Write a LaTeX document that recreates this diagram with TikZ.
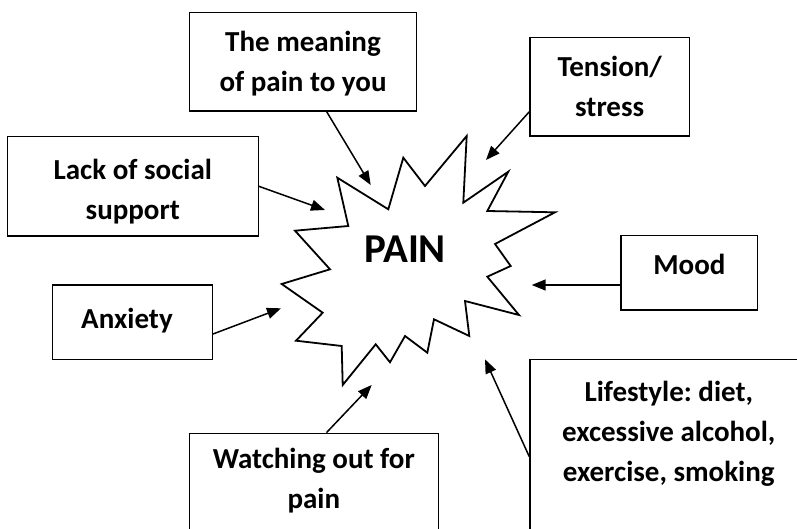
\documentclass[tikz,border=0pt]{standalone}
\usepackage{fontspec}
\setmainfont{Carlito}
\frenchspacing
\usetikzlibrary{arrows,arrows.meta,positioning}

\begin{document}
\begin{tikzpicture}[
        x = 1pt, y = -1pt, % one unit per pixel, y pointing down
        > = {Triangle[length=14pt,width=11pt]}, % arrow head style
        line width = 1.5pt % line style
    ]

    \tikzstyle{box}=[
        draw = black,
        line width = 1.4pt,
        fill = white,
        inner sep = 0pt
    ]
    \tikzstyle{boxtext}=[
        align = center,
        inner sep = 0pt,
        font = \fontsize{29}{40}\selectfont\bfseries
    ]

    \useasboundingbox (0,0) rectangle (797,529);
    \clip (0,0) rectangle (797,529);

    % the star
    \draw[line width=1.8pt, line join=miter, fill=white]
        (337.3,177.7) -- (388.3,209.3) -- (403.3,157.7) -- (425,186)
        -- (466.7,136) -- (463.3,202.7) -- (508.3,171.7) -- (487.3,211)
        -- (555,212.3) -- (495,244) -- (510.7,266) -- (487.3,276.7)
        -- (519,315) -- (465,301) -- (469.3,336) -- (434,319.3)
        -- (427.3,352.7) -- (405,336) -- (390,362.3) -- (375.7,344.3)
        -- (342.7,385) -- (341.7,346) -- (296,340.7) -- (322.7,312.7)
        -- (281.7,284) -- (330,269.3) -- (295,230.7) -- (348.3,226) -- cycle;
    \node[font=\fontsize{41}{48}\selectfont\bfseries, inner sep=0pt] (pain) at (405,248.9) {PAIN};

    % boxes
    \node[box, minimum width=227.4pt, minimum height=98.3pt] (meaning) at (303,61.9) {};
    \node[box, minimum width=159.3pt, minimum height=98.7pt] (tension) at (609.7,86.7) {};
    \node[box, minimum width=251pt, minimum height=99.3pt] (lack) at (132.8,186.35) {};
    \node[box, minimum width=159.6pt, minimum height=74.3pt] (anxiety) at (132.5,322.15) {};
    \node[box, minimum width=136.7pt, minimum height=74.3pt] (mood) at (689.35,272.85) {};
    \node[box, minimum width=277.6pt, minimum height=185.7pt] (lifestyle) at (668.8,452.15) {};
    \node[box, minimum width=249pt, minimum height=111.7pt] (watching) at (313.8,489.15) {};

    \node[boxtext, below=18.5pt of meaning.north] (meaningtext) {The meaning\\of pain to you};
    \node[boxtext, below=18.5pt of tension.north] (tensiontext) {Tension/\\stress};
    \node[boxtext, below=22.5pt of lack.north] (lacktext) {Lack of social\\support};
    \node[boxtext, below=23.5pt of anxiety.north, xshift=-5.5pt] (anxietytext) {Anxiety};
    \node[boxtext, below=18.5pt of mood.north] (moodtext) {Mood};
    \node[boxtext, below=21.5pt of lifestyle.north] (lifestyletext) {Lifestyle: diet,\\excessive alcohol,\\exercise, smoking};
    \node[boxtext, below=14.5pt of watching.north] (watchingtext) {Watching out for\\pain};

    % arrow tips at the star
    \coordinate (tipmeaning) at (370.7,185);
    \coordinate (tiptension) at (486,160);
    \coordinate (tiplack) at (325,210);
    \coordinate (tipanxiety) at (281,308.3);
    \coordinate (tipmood) at (531.7,285);
    \coordinate (tipwatching) at (371.7,385);
    \coordinate (tiplifestyle) at (485,359.3);

    \path[->] ([xshift=23.7pt]meaning.south) edge (tipmeaning);
    \path[->] ([yshift=-25pt]tension.west) edge (tiptension);
    \path[->] (lack.east) edge (tiplack);
    \path[->] ([yshift=-11.85pt]anxiety.east) edge (tipanxiety);
    \path[->] ([yshift=-12.15pt]mood.west) edge (tipmood);
    \path[->] ([xshift=12.7pt]watching.north) edge (tipwatching);
    \path[->] ([yshift=-4.55pt]lifestyle.west) edge (tiplifestyle);
\end{tikzpicture}
\end{document}
